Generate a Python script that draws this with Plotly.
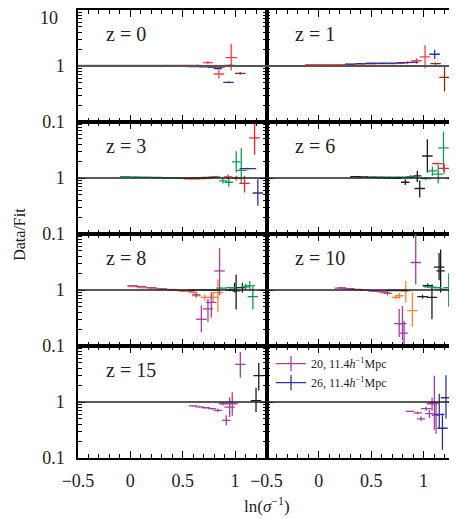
import plotly.graph_objects as go
from plotly.subplots import make_subplots

RED = '#f21f2c'
RED_LIGHT = '#ff3b47'
BLUE = '#30309c'
BROWN = '#8a2c06'
GREEN = '#0e9c52'
BLACK = '#1c1c1c'
ORANGE = '#ff8030'
PURPLE = '#a23ea4'

# each point: (x, y, x half-width, y low, y high)
z0_red = [(-0.45, 1.02, 0.05, 1.0, 1.04), (-0.35, 1.02, 0.05, 1.0, 1.04), (-0.25, 1.02, 0.05, 1.0, 1.04),
          (-0.15, 1.02, 0.05, 1.0, 1.04), (-0.05, 1.02, 0.05, 1.0, 1.04), (0.05, 1.02, 0.05, 1.0, 1.04),
          (0.15, 1.02, 0.05, 1.0, 1.04), (0.25, 1.02, 0.05, 1.0, 1.04), (0.35, 1.03, 0.05, 1.01, 1.05),
          (0.45, 1.03, 0.05, 1.01, 1.05), (0.55, 1.02, 0.05, 1.0, 1.04), (0.64, 1.03, 0.04, 1.0, 1.06),
          (0.74, 1.15, 0.048, 1.08, 1.22), (0.846, 0.72, 0.05, 0.6, 0.85), (0.963, 1.41, 0.054, 0.83, 2.5)]
z0_blue = [(0.2, 1.0, 0.05, 0.99, 1.01), (0.3, 1.0, 0.05, 0.99, 1.01), (0.4, 0.99, 0.05, 0.98, 1.0),
           (0.5, 0.99, 0.05, 0.98, 1.0), (0.6, 0.98, 0.05, 0.97, 0.99), (0.7, 0.97, 0.05, 0.96, 0.98),
           (0.78, 0.96, 0.04, 0.94, 0.98), (0.836, 0.9, 0.04, 0.87, 0.93), (0.938, 0.51, 0.05, 0.49, 0.53)]
z0_brown = [(0.78, 0.97, 0.04, 0.96, 0.98), (0.86, 0.96, 0.04, 0.94, 0.98), (0.95, 1.02, 0.05, 0.98, 1.06),
            (1.049, 0.74, 0.05, 0.7, 0.78)]

z1_red = [(-0.08, 1.06, 0.05, 1.05, 1.07), (0.0, 1.06, 0.05, 1.05, 1.07), (0.1, 1.06, 0.05, 1.05, 1.07),
          (0.2, 1.06, 0.05, 1.05, 1.07), (0.3, 1.07, 0.05, 1.06, 1.08), (0.4, 1.08, 0.05, 1.07, 1.09),
          (0.5, 1.09, 0.05, 1.08, 1.1), (0.6, 1.1, 0.05, 1.09, 1.11), (0.7, 1.1, 0.05, 1.08, 1.12),
          (0.78, 1.12, 0.04, 1.09, 1.15), (0.846, 1.15, 0.04, 1.08, 1.22), (0.932, 1.24, 0.05, 1.1, 1.38),
          (1.014, 1.46, 0.05, 0.91, 2.35)]
z1_blue = [(0.3, 1.08, 0.05, 1.07, 1.09), (0.4, 1.1, 0.05, 1.09, 1.11), (0.5, 1.12, 0.05, 1.11, 1.13),
           (0.6, 1.12, 0.05, 1.11, 1.13), (0.7, 1.13, 0.05, 1.12, 1.14), (0.8, 1.15, 0.05, 1.13, 1.17),
           (0.9, 1.16, 0.05, 1.13, 1.19), (1.106, 1.62, 0.05, 1.34, 1.95)]
z1_brown = [(1.115, 1.1, 0.05, 1.05, 1.15), (1.2, 0.625, 0.05, 0.35, 1.03)]

z3_green = [(-0.05, 1.06, 0.05, 1.05, 1.07), (0.05, 1.05, 0.05, 1.04, 1.06), (0.15, 1.04, 0.05, 1.03, 1.05),
            (0.25, 1.02, 0.05, 1.01, 1.03), (0.35, 1.01, 0.05, 1.0, 1.02), (0.45, 1.0, 0.05, 0.99, 1.01),
            (0.55, 1.0, 0.05, 0.99, 1.01), (0.65, 1.01, 0.05, 1.0, 1.02), (0.72, 1.03, 0.04, 1.01, 1.05),
            (0.78, 1.04, 0.04, 1.01, 1.07), (0.82, 1.05, 0.04, 1.0, 1.1), (0.884, 0.89, 0.04, 0.8, 0.98),
            (0.94, 0.84, 0.04, 0.7, 1.0), (1.011, 1.94, 0.04, 1.25, 3.0), (1.059, 1.37, 0.05, 0.8, 3.4)]
z3_red = [(0.55, 0.97, 0.04, 0.96, 0.98), (0.62, 0.97, 0.04, 0.96, 0.98), (0.68, 0.98, 0.04, 0.97, 0.99),
          (0.74, 0.99, 0.04, 0.98, 1.0), (0.8, 1.03, 0.04, 1.0, 1.06), (0.932, 1.05, 0.04, 0.95, 1.15),
          (1.011, 1.0, 0.04, 0.9, 1.1), (1.09, 0.8, 0.05, 0.55, 1.1), (1.186, 5.2, 0.05, 2.6, 9.5)]
z3_blue = [(1.122, 1.47, 0.08, 1.42, 1.52), (1.217, 0.54, 0.05, 0.32, 0.95)]

z6_black = [(0.35, 1.06, 0.05, 1.05, 1.07), (0.42, 1.05, 0.05, 1.04, 1.06), (0.5, 1.04, 0.05, 1.03, 1.05),
            (0.58, 1.02, 0.05, 1.01, 1.03), (0.66, 1.0, 0.05, 0.99, 1.01), (0.75, 0.99, 0.04, 0.97, 1.01),
            (0.825, 0.84, 0.04, 0.75, 0.95), (0.878, 1.05, 0.04, 0.98, 1.12), (0.94, 1.09, 0.04, 0.85, 1.35),
            (0.963, 0.65, 0.05, 0.45, 0.9), (1.036, 2.47, 0.05, 1.25, 4.9)]
z6_green = [(0.56, 1.04, 0.05, 1.03, 1.05), (0.64, 1.04, 0.05, 1.03, 1.05), (0.72, 1.04, 0.05, 1.03, 1.05),
            (0.8, 1.04, 0.05, 1.02, 1.06), (0.88, 1.05, 0.05, 1.02, 1.08), (1.02, 0.98, 0.05, 0.93, 1.03),
            (1.084, 1.34, 0.05, 1.1, 1.6), (1.14, 1.17, 0.05, 0.8, 1.7), (1.19, 3.46, 0.05, 1.34, 6.8)]
z6_red = [(1.131, 1.81, 0.05, 1.75, 1.87), (1.197, 1.49, 0.05, 1.2, 1.8), (1.26, 0.98, 0.04, 0.4, 2.5)]

z8_purple = [(0.02, 1.19, 0.05, 1.17, 1.21), (0.1, 1.15, 0.05, 1.13, 1.17), (0.2, 1.1, 0.05, 1.08, 1.12),
             (0.3, 1.05, 0.05, 1.03, 1.07), (0.4, 1.02, 0.05, 1.0, 1.04), (0.5, 0.98, 0.05, 0.95, 1.01),
             (0.58, 0.96, 0.04, 0.92, 1.0), (0.63, 0.82, 0.04, 0.75, 0.9), (0.678, 0.3, 0.05, 0.175, 0.53),
             (0.741, 0.46, 0.05, 0.27, 0.69), (0.773, 0.6, 0.05, 0.32, 0.91), (0.852, 2.19, 0.05, 0.8, 5.6)]
z8_orange = [(0.03, 1.15, 0.05, 1.13, 1.17), (0.12, 1.1, 0.05, 1.08, 1.12), (0.22, 1.06, 0.05, 1.04, 1.08),
             (0.32, 1.02, 0.05, 1.0, 1.04), (0.42, 0.98, 0.05, 0.96, 1.0), (0.52, 0.95, 0.05, 0.92, 0.98),
             (0.6, 0.9, 0.04, 0.86, 0.94), (0.63, 0.79, 0.04, 0.72, 0.86), (0.71, 0.74, 0.04, 0.65, 0.83),
             (0.79, 0.74, 0.05, 0.6, 0.9), (0.836, 0.9, 0.05, 0.4, 1.55)]
z8_black = [(0.6, 1.0, 0.05, 0.99, 1.01), (0.7, 1.0, 0.05, 0.99, 1.01), (0.8, 1.0, 0.05, 0.98, 1.02),
            (0.948, 1.0, 0.04, 0.95, 1.05), (0.995, 1.1, 0.04, 0.9, 1.35), (1.01, 0.97, 0.04, 0.45, 1.9),
            (1.07, 1.1, 0.04, 0.9, 1.35)]
z8_green = [(0.87, 1.08, 0.05, 1.05, 1.11), (0.96, 1.1, 0.05, 1.06, 1.14), (1.1, 1.14, 0.04, 1.0, 1.3),
            (1.14, 1.19, 0.05, 1.0, 1.45), (1.17, 0.76, 0.05, 0.45, 1.14)]

z10_red = [(0.22, 1.09, 0.04, 1.07, 1.11), (0.3, 1.06, 0.04, 1.04, 1.08)]
z10_purple = [(0.2, 1.08, 0.05, 1.06, 1.1), (0.28, 1.05, 0.05, 1.03, 1.07), (0.36, 1.02, 0.05, 1.0, 1.04),
              (0.44, 0.99, 0.05, 0.97, 1.01), (0.52, 0.96, 0.05, 0.93, 0.99), (0.6, 0.94, 0.05, 0.9, 0.98),
              (0.655, 0.87, 0.04, 0.8, 0.94), (0.767, 0.25, 0.05, 0.145, 0.46), (0.798, 0.25, 0.04, 0.125, 0.52),
              (0.814, 0.17, 0.04, 0.1, 0.28), (0.925, 3.1, 0.05, 1.26, 10.0)]
z10_orange = [(0.55, 0.95, 0.05, 0.92, 0.98), (0.63, 0.9, 0.05, 0.86, 0.94), (0.734, 0.74, 0.04, 0.68, 0.8),
              (0.77, 0.79, 0.04, 0.7, 0.88), (0.83, 0.97, 0.05, 0.6, 1.45), (0.893, 0.43, 0.05, 0.22, 0.9)]
z10_black = [(0.7, 0.98, 0.05, 0.96, 1.0), (0.8, 0.98, 0.05, 0.96, 1.0), (0.99, 0.76, 0.05, 0.7, 0.82),
             (1.04, 1.19, 0.05, 1.1, 1.3), (1.08, 0.74, 0.05, 0.3, 1.26), (1.148, 2.57, 0.05, 1.5, 4.6),
             (1.163, 2.2, 0.04, 0.9, 5.3)]
z10_green = [(1.05, 1.14, 0.05, 1.1, 1.18), (1.115, 1.1, 0.05, 1.05, 1.15), (1.18, 1.03, 0.05, 0.98, 1.08),
             (1.24, 1.1, 0.05, 0.5, 2.0)]

z15_purple = [(0.6, 0.85, 0.04, 0.83, 0.87), (0.66, 0.82, 0.04, 0.8, 0.84), (0.72, 0.79, 0.04, 0.77, 0.81),
              (0.78, 0.76, 0.04, 0.73, 0.79), (0.836, 0.71, 0.04, 0.66, 0.76), (0.884, 0.93, 0.04, 0.87, 0.99),
              (0.916, 0.47, 0.04, 0.38, 0.58), (0.948, 0.81, 0.05, 0.54, 1.22), (0.973, 0.93, 0.05, 0.57, 1.5),
              (1.05, 4.7, 0.05, 2.7, 7.8)]
z15_black = [(1.2, 1.06, 0.05, 0.66, 1.8), (1.226, 2.96, 0.05, 1.6, 5.0)]

z20_purple = [(0.87, 0.68, 0.04, 0.66, 0.7), (0.944, 0.64, 0.04, 0.6, 0.68), (0.976, 0.5, 0.04, 0.46, 0.55),
              (1.024, 0.76, 0.05, 0.7, 0.82), (1.056, 0.62, 0.04, 0.52, 0.72), (1.081, 0.93, 0.05, 0.7, 1.2),
              (1.103, 0.97, 0.05, 0.32, 2.95), (1.119, 0.58, 0.04, 0.27, 0.95)]
z26_blue = [(1.15, 0.6, 0.05, 0.34, 1.4), (1.18, 0.34, 0.05, 0.14, 0.62), (1.214, 1.19, 0.05, 0.51, 3.0)]

panels = [
    (1, 1, 'z = 0', [(RED_LIGHT, z0_red), (BLUE, z0_blue), (BROWN, z0_brown)]),
    (1, 2, 'z = 1', [(RED_LIGHT, z1_red), (BLUE, z1_blue), (BROWN, z1_brown)]),
    (2, 1, 'z = 3', [(GREEN, z3_green), (RED, z3_red), (BLUE, z3_blue)]),
    (2, 2, 'z = 6', [(BLACK, z6_black), (GREEN, z6_green), (RED, z6_red)]),
    (3, 1, 'z = 8', [(ORANGE, z8_orange), (PURPLE, z8_purple), (BLACK, z8_black), (GREEN, z8_green)]),
    (3, 2, 'z = 10', [(RED, z10_red), (ORANGE, z10_orange), (PURPLE, z10_purple), (BLACK, z10_black),
                      (GREEN, z10_green)]),
    (4, 1, 'z = 15', [(PURPLE, z15_purple), (BLACK, z15_black)]),
    (4, 2, '', [(PURPLE, z20_purple), (BLUE, z26_blue)]),
]
legend_items = [(PURPLE, '20, 11.4<i>h</i><sup>−1</sup>Mpc'), (BLUE, '26, 11.4<i>h</i><sup>−1</sup>Mpc')]

FONT = 'Liberation Serif'
TXT = '#222222'

fig = make_subplots(rows=4, cols=2, horizontal_spacing=0, vertical_spacing=0)

for row, col, label, series in panels:
    for color, pts in series:
        fig.add_trace(go.Scatter(
            x=[p[0] for p in pts], y=[p[1] for p in pts],
            mode='markers', showlegend=False, hoverinfo='skip',
            marker=dict(size=1, color=color, opacity=0),
            error_x=dict(type='data', array=[p[2] for p in pts], color=color, thickness=1.3, width=0),
            error_y=dict(type='data', symmetric=False,
                         array=[p[4] - p[1] for p in pts],
                         arrayminus=[p[1] - p[3] for p in pts],
                         color=color, thickness=1.3, width=0),
        ), row=row, col=col)
    fig.add_hline(y=1, line=dict(color='#222222' if row > 1 else '#555555', width=1.3 if row > 1 else 1.8),
                  row=row, col=col)
    if label:
        fig.add_annotation(text=label, xref='x domain', yref='y domain',
                           x=0.14, y=0.79, xanchor='left', yanchor='middle', showarrow=False,
                           font=dict(family=FONT, size=20, color=TXT), row=row, col=col)

for color, name in legend_items:
    fig.add_trace(go.Scatter(
        x=[None], y=[None], mode='lines+markers', name=name,
        line=dict(color=color, width=1.3),
        marker=dict(symbol='line-ns', size=11, line=dict(color=color, width=1.3)),
    ), row=4, col=2)

minor_y = [0.2, 0.3, 0.4, 0.5, 0.6, 0.7, 0.8, 0.9, 2, 3, 4, 5, 6, 7, 8, 9]
for row in range(1, 5):
    for col in (1, 2):
        fig.update_xaxes(
            range=[-0.5, 1.3], tickvals=[-0.5, 0, 0.5, 1], ticktext=['−0.5', '0', '0.5', '1'],
            ticks='inside', ticklen=7, tickwidth=1.2, tickcolor='black', mirror='ticks',
            showline=True, linecolor='black', linewidth=1.5, showgrid=False, zeroline=False,
            minor=dict(dtick=0.1, tick0=0, ticks='inside', ticklen=4, tickwidth=1, tickcolor='black'),
            showticklabels=(row == 4), tickfont=dict(family=FONT, size=18, color=TXT),
            ticklabelstandoff=6,
            row=row, col=col)
        fig.update_yaxes(
            type='log', range=[-1, 1],
            tickvals=[0.1, 1, 10], ticktext=['0.1', '1', ''],
            ticks='inside', ticklen=7, tickwidth=1.2, tickcolor='black', mirror='ticks',
            showline=True, linecolor='black', linewidth=1.5, showgrid=False, zeroline=False,
            minor=dict(tickvals=minor_y, ticks='inside', ticklen=4, tickwidth=1, tickcolor='black'),
            showticklabels=(col == 1), tickfont=dict(family=FONT, size=18, color=TXT),
            ticklabelstandoff=8,
            row=row, col=col)

# top "10" label of the first row (the page top edge would clip the tick label)
fig.add_annotation(text='10', xref='paper', yref='paper', x=-0.047, y=1.0, yshift=4,
                   xanchor='right', yanchor='top', showarrow=False,
                   font=dict(family=FONT, size=18, color=TXT))
fig.add_annotation(text='Data/Fit', xref='paper', yref='paper', x=-0.157, y=0.5,
                   textangle=-90, showarrow=False, xanchor='center', yanchor='middle',
                   font=dict(family=FONT, size=16, color=TXT))
fig.add_annotation(text='ln(<i>σ</i><sup>−1</sup>)', xref='paper', yref='paper', x=0.5, y=-0.104,
                   showarrow=False, xanchor='center', yanchor='middle',
                   font=dict(family=FONT, size=17, color=TXT))

# page body keeps its 8px default margin, so the figure is sized to fit inside it
fig.update_layout(
    width=449, height=511,
    margin=dict(l=70, r=1, t=0, b=61),
    paper_bgcolor='white', plot_bgcolor='white',
    showlegend=True,
    legend=dict(x=0.512, y=0.243, xanchor='left', yanchor='top', bgcolor='rgba(0,0,0,0)',
                font=dict(family=FONT, size=12, color=TXT), tracegroupgap=0, itemwidth=30),
)

fig.write_html('out.html')
